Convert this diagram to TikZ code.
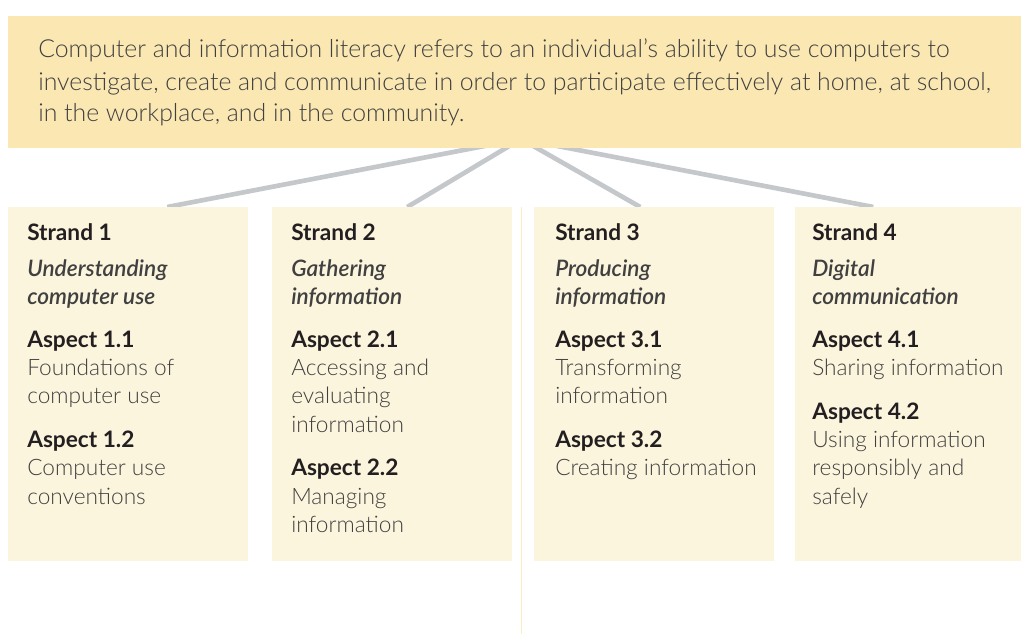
\documentclass[tikz,border=0pt]{standalone}
\usepackage{fontspec}
\setmainfont{Lato Light}[BoldFont={Lato Bold},ItalicFont={Lato Semibold Italic}]
\usetikzlibrary{backgrounds}
\definecolor{introfill}{HTML}{FAE7B2}
\definecolor{strandfill}{HTML}{FCF5DE}
\definecolor{linkgray}{HTML}{C5C8CB}
\definecolor{bodytext}{HTML}{404040}
\definecolor{headtext}{HTML}{231F20}
\newcommand{\hd}[1]{{\color{headtext}\bfseries #1}}
\newcommand{\strandBox}[5]{%
  \node[strandbox, minimum width=#3*0.75pt, anchor=north west] (#1) at (#2, 207) {};
  \node[strandtext, anchor=north west]
    (#1text) at ([shift={(#4*0.75pt,-16*0.75pt)}]#1.north west)
    {#5};
}
\begin{document}
\begin{tikzpicture}[x=0.75pt, y=-0.75pt,
  introbox/.style={fill=introfill, inner sep=0pt, minimum width=759.75pt,
    minimum height=99pt},
  introtext/.style={inner sep=0pt, align=left, text=bodytext,
    font=\fontsize{18.6}{24}\selectfont},
  strandbox/.style={fill=strandfill, inner sep=0pt, minimum height=265.5pt},
  strandtext/.style={inner sep=0pt, align=left, text=bodytext,
    font=\fontsize{17}{21.3}\selectfont},
  link/.style={draw=linkgray, line width=3.5pt}]
  \useasboundingbox (0,0) rectangle (1021,634);

  % definition on top
  \node[introbox, anchor=north west] (intro) at (8,16) {};
  \node[introtext, anchor=north west] (introtxt) at (38,39)
    {Computer and information literacy refers to an individual’s ability to use computers to\\
     investigate, create and communicate in order to participate effectively at home, at school,\\
     in the workplace, and in the community.};
  \coordinate (hub) at (521,139);

  % the four strands
  \strandBox{sA}{8}{240}{19}{\hd{Strand 1}\\[5.7pt]
    \itshape Understanding\\ \itshape computer use\\[10.6pt]
    \hd{Aspect 1.1}\\ Foundations of\\ computer use\\[11.5pt]
    \hd{Aspect 1.2}\\ Computer use\\ conventions}
  \strandBox{sB}{272}{240}{19}{\hd{Strand 2}\\[5.7pt]
    \itshape Gathering\\ \itshape information\\[10.6pt]
    \hd{Aspect 2.1}\\ Accessing and\\ evaluating\\ information\\[11.5pt]
    \hd{Aspect 2.2}\\ Managing\\ information}
  \strandBox{sC}{534}{240}{21}{\hd{Strand 3}\\[5.7pt]
    \itshape Producing\\ \itshape information\\[10.6pt]
    \hd{Aspect 3.1}\\ Transforming\\ information\\[11.5pt]
    \hd{Aspect 3.2}\\ Creating information}
  \strandBox{sD}{795}{226}{17}{\hd{Strand 4}\\[5.7pt]
    \itshape Digital\\ \itshape communication\\[10.6pt]
    \hd{Aspect 4.1}\\ Sharing information\\[11.5pt]
    \hd{Aspect 4.2}\\ Using information\\ responsibly and\\ safely}

  % connectors behind the boxes
  \begin{scope}[on background layer]
    \draw[introfill!60!strandfill, line width=0.75pt] (521,207) -- (521,634);
    \draw[link] (hub) -- ([xshift=39*0.75pt]sA.north);
    \draw[link] (hub) -- ([xshift=15*0.75pt]sB.north);
    \draw[link] (hub) -- ([xshift=-14*0.75pt]sC.north);
    \draw[link] (hub) -- ([xshift=-35*0.75pt]sD.north);
  \end{scope}
\end{tikzpicture}
\end{document}
